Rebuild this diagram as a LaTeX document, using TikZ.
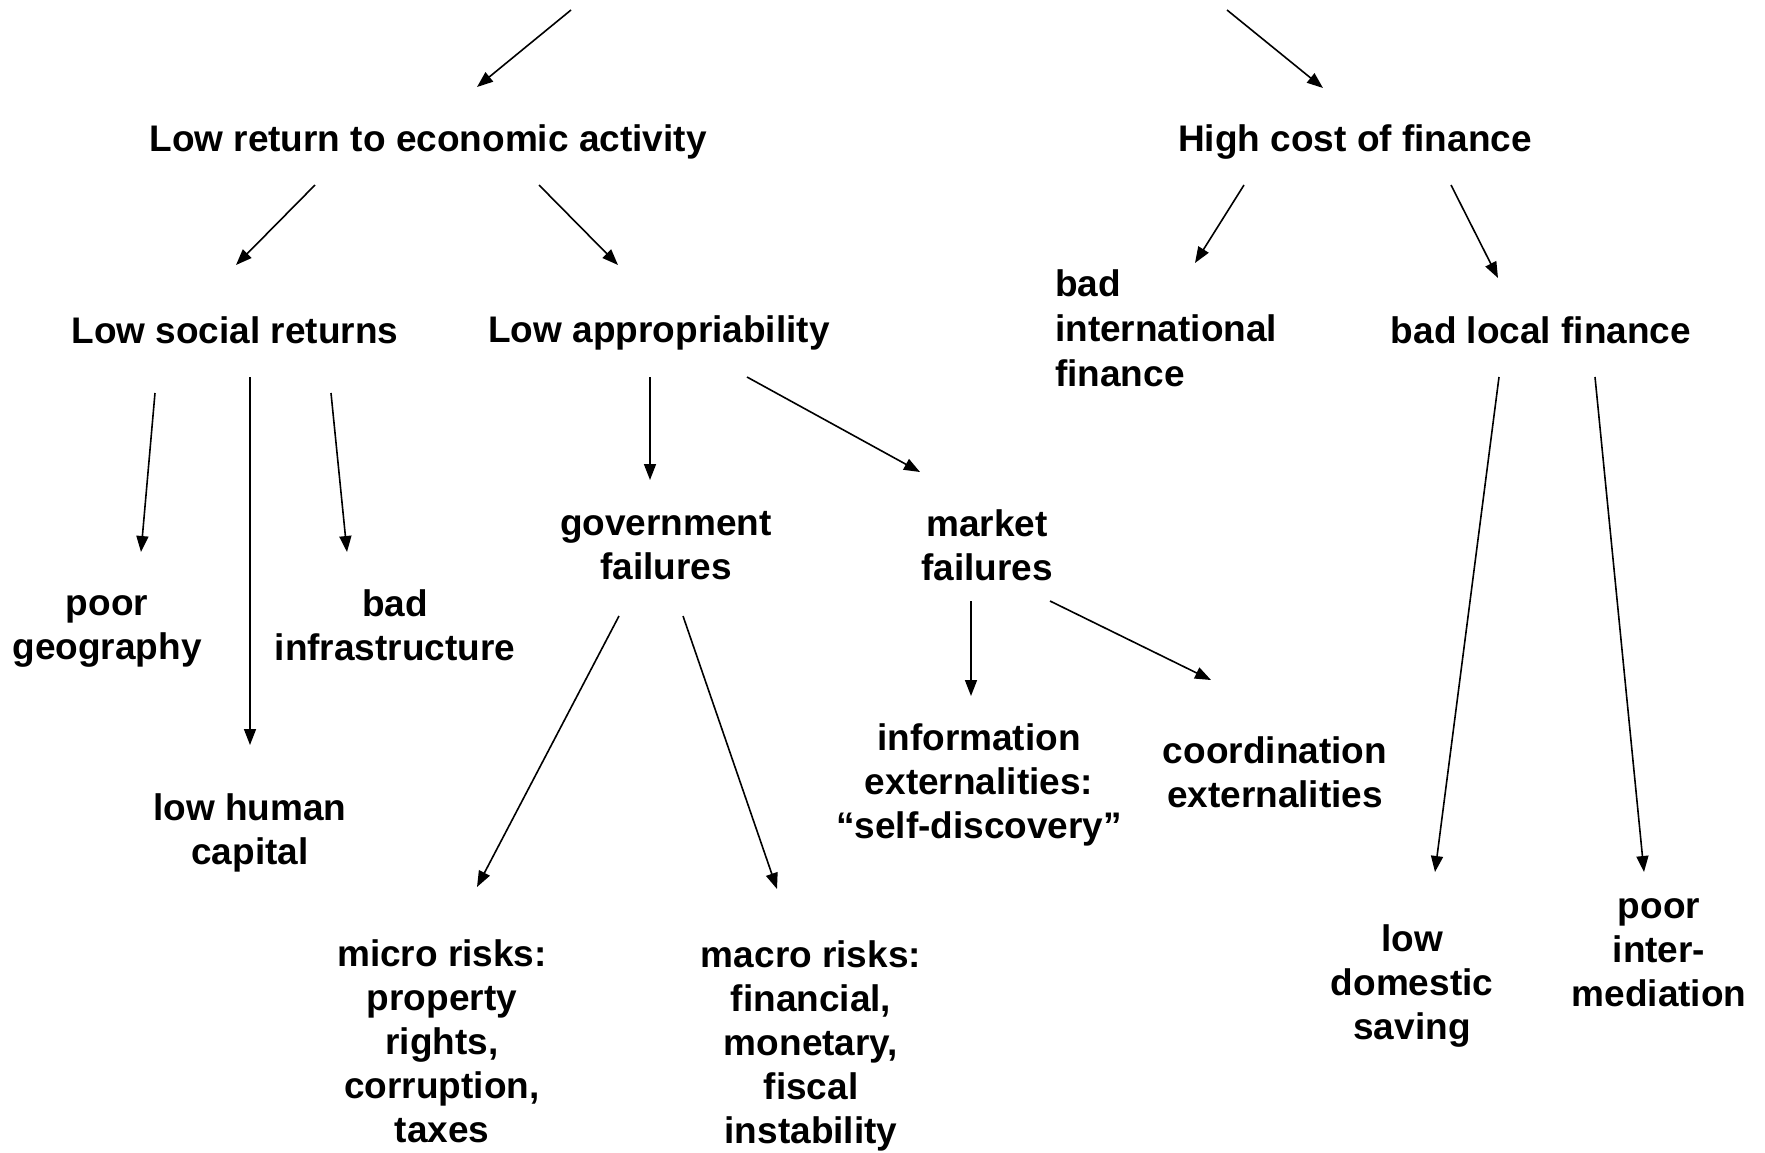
\documentclass[tikz,border=0pt]{standalone}
\usepackage{fontspec}
\setmainfont{Liberation Sans}
\usetikzlibrary{arrows.meta,calc}
\begin{document}
\begin{tikzpicture}[x=1pt,y=-1pt,
  lbl/.style={font=\fontsize{37}{44}\selectfont\bfseries, align=center, inner sep=0pt},
  arr/.style={line width=1.6pt, -{Triangle[length=16pt,width=12pt]}}]
\useasboundingbox (0,0) rectangle (1765,1152);
\coordinate (c1) at (571,10);
\coordinate (c2) at (1227,10);
\node[lbl] (lre) at (428,142) {Low return to economic activity};
\node[lbl] (hcf) at (1355,142) {High cost of finance};
\node[lbl] (lsr) at (235,330) {Low social returns};
\node[lbl] (la) at (659,333) {Low appropriability};
\node[lbl, align=left, anchor=west, font=\fontsize{37}{45}\selectfont\bfseries] (bif) at (1055,328) {bad\\international\\finance};
\node[lbl] (blf) at (1541,330) {bad local finance};
\node[lbl] (geo) at (107,631) {poor\\geography};
\node[lbl] (infra) at (395,625) {bad\\infrastructure};
\node[lbl] (hum) at (250,833) {low human\\capital};
\node[lbl] (gov) at (666,546) {government\\failures};
\node[lbl] (mkt) at (987,545) {market\\failures};
\node[lbl] (info) at (979,785) {information\\externalities:\\“self-discovery”};
\node[lbl] (coord) at (1275,772) {coordination\\externalities};
\node[lbl] (micro) at (442,1041) {micro risks:\\property\\rights,\\corruption,\\taxes};
\node[lbl] (macro) at (811,1046) {macro risks:\\financial,\\monetary,\\fiscal\\instability};
\node[lbl] (sav) at (1412,986) {low\\domestic\\saving};
\node[lbl] (inter) at (1659,953) {poor\\inter-\\mediation};

\draw[arr] (c1) -- ($(lre)+(49,-55)$);
\draw[arr] (c2) -- ($(hcf)+(-32,-54)$);
\draw[arr] ($(lre)+(-113,43)$) -- ($(lsr)+(1,-65)$);
\draw[arr] ($(lre)+(111,43)$) -- ($(la)+(-41,-68)$);
\draw[arr] ($(hcf)+(-111,43)$) -- ($(bif.west)+(140,-65)$);
\draw[arr] ($(hcf)+(96,43)$) -- ($(blf)+(-43,-52)$);
\draw[arr] ($(lsr)+(-80,63)$) -- ($(geo)+(34,-79)$);
\draw[arr] ($(lsr)+(15,47)$) -- ($(hum)+(0,-88)$);
\draw[arr] ($(lsr)+(96,63)$) -- ($(infra)+(-48,-73)$);
\draw[arr] ($(la)+(-9,44)$) -- ($(gov)+(-16,-66)$);
\draw[arr] ($(la)+(88,44)$) -- ($(mkt)+(-67,-73)$);
\draw[arr] ($(gov)+(-47,70)$) -- ($(micro)+(35,-154)$);
\draw[arr] ($(gov)+(17,70)$) -- ($(macro)+(-34,-157)$);
\draw[arr] ($(mkt)+(-16,56)$) -- ($(info)+(-8,-89)$);
\draw[arr] ($(mkt)+(63,56)$) -- ($(coord)+(-64,-92)$);
\draw[arr] ($(blf)+(-42,47)$) -- ($(sav)+(23,-114)$);
\draw[arr] ($(blf)+(54,47)$) -- ($(inter)+(-15,-81)$);
\end{tikzpicture}
\end{document}
